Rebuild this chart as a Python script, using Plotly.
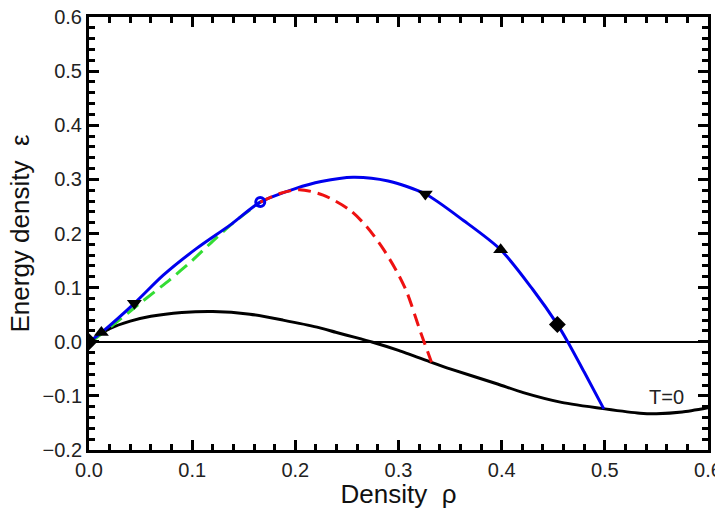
import plotly.graph_objects as go

# T=0 curve (black)
rho_t0 = [0.0, 0.02, 0.04, 0.06, 0.09, 0.12, 0.156, 0.188, 0.221, 0.24, 0.258, 0.275,
          0.30, 0.332, 0.35, 0.396, 0.421, 0.458, 0.50, 0.534, 0.55, 0.575, 0.60]
eps_t0 = [0.0, 0.024, 0.038, 0.047, 0.054, 0.056, 0.051, 0.040, 0.027, 0.017, 0.008, -0.001,
          -0.016, -0.038, -0.050, -0.078, -0.094, -0.112, -0.124, -0.132, -0.133, -0.130, -0.122]

# blue curve
rho_blue = [0.0, 0.012, 0.044, 0.072, 0.104, 0.137, 0.166, 0.20, 0.225, 0.256, 0.29,
            0.326, 0.363, 0.399, 0.43, 0.454, 0.464, 0.48, 0.499]
eps_blue = [0.0, 0.017, 0.071, 0.123, 0.172, 0.216, 0.258, 0.283, 0.296, 0.304, 0.297,
            0.273, 0.224, 0.170, 0.097, 0.032, 0.0, -0.056, -0.124]

# red dashed curve
rho_red = [0.166, 0.185, 0.204, 0.227, 0.253, 0.269, 0.285, 0.298, 0.308, 0.321, 0.332]
eps_red = [0.258, 0.274, 0.281, 0.271, 0.243, 0.213, 0.172, 0.131, 0.092, 0.020, -0.038]

# green dashed curve
rho_green = [0.005, 0.024, 0.05, 0.078, 0.10, 0.12, 0.14, 0.166]
eps_green = [0.004, 0.032, 0.072, 0.114, 0.150, 0.186, 0.220, 0.258]

# markers
mk_rho = [0.0, 0.012, 0.044, 0.326, 0.399, 0.454]
mk_eps = [0.0, 0.017, 0.071, 0.273, 0.170, 0.032]
mk_sym = ["diamond", "triangle-up", "triangle-down", "triangle-down", "triangle-up", "diamond"]
circ_rho = [0.166]
circ_eps = [0.258]

x_ticks = [0.0, 0.1, 0.2, 0.3, 0.4, 0.5, 0.6]
y_ticks = [-0.2, -0.1, 0.0, 0.1, 0.2, 0.3, 0.4, 0.5, 0.6]

FONT = "Liberation Sans, Arial, sans-serif"

fig = go.Figure()
fig.add_trace(go.Scatter(x=rho_t0, y=eps_t0, mode="lines",
                         line=dict(color="black", width=3, shape="spline", smoothing=0.6)))
fig.add_trace(go.Scatter(x=rho_green, y=eps_green, mode="lines",
                         line=dict(color="#33dd33", width=3, dash="14px,7px", shape="spline", smoothing=0.6)))
fig.add_trace(go.Scatter(x=rho_blue, y=eps_blue, mode="lines",
                         line=dict(color="#0000ee", width=3, shape="spline", smoothing=0.8)))
fig.add_trace(go.Scatter(x=rho_red, y=eps_red, mode="lines",
                         line=dict(color="#ee1111", width=3, dash="13px,7px", shape="spline", smoothing=0.8)))
fig.add_trace(go.Scatter(x=circ_rho, y=circ_eps, mode="markers",
                         marker=dict(symbol="circle-open", size=9, color="#0000ee", line=dict(width=3, color="#0000ee"))))
fig.add_trace(go.Scatter(x=mk_rho, y=mk_eps, mode="markers",
                         marker=dict(symbol=mk_sym, size=13, color="black")))

axis_common = dict(
    showline=True, linecolor="black", linewidth=3, mirror="allticks",
    ticks="inside", ticklen=10, tickwidth=2.5, tickcolor="black",
    showgrid=False, tickformat=".1f", ticklabeloverflow="allow",
    tickfont=dict(family=FONT, size=20, color="#222"),
)

fig.update_xaxes(range=[0, 0.6], tickvals=x_ticks, zeroline=False,
                 minor=dict(dtick=0.02, ticks="inside", ticklen=6, tickwidth=2.5, tickcolor="black", showgrid=False),
                 title=dict(text="Density  ρ", font=dict(family=FONT, size=26, color="#111"), standoff=0),
                 **axis_common)
fig.update_yaxes(range=[-0.2, 0.6], tickvals=y_ticks,
                 zeroline=True, zerolinecolor="black", zerolinewidth=1.5,
                 minor=dict(dtick=0.02, ticks="inside", ticklen=6, tickwidth=2.5, tickcolor="black", showgrid=False),
                 title=dict(text="Energy density  ε", font=dict(family=FONT, size=26, color="#111"), standoff=6),
                 **axis_common)

fig.add_annotation(x=0.56, y=-0.102, text="T=0", showarrow=False,
                   font=dict(family=FONT, size=20, color="#222"))

fig.update_layout(width=715, height=509, showlegend=False,
                  plot_bgcolor="white", paper_bgcolor="white",
                  margin=dict(l=89, r=7, t=17, b=59, autoexpand=False))

fig.write_html("out.html", config={"displayModeBar": False},
               post_script="document.body.style.margin='0';document.body.style.overflow='hidden';")
